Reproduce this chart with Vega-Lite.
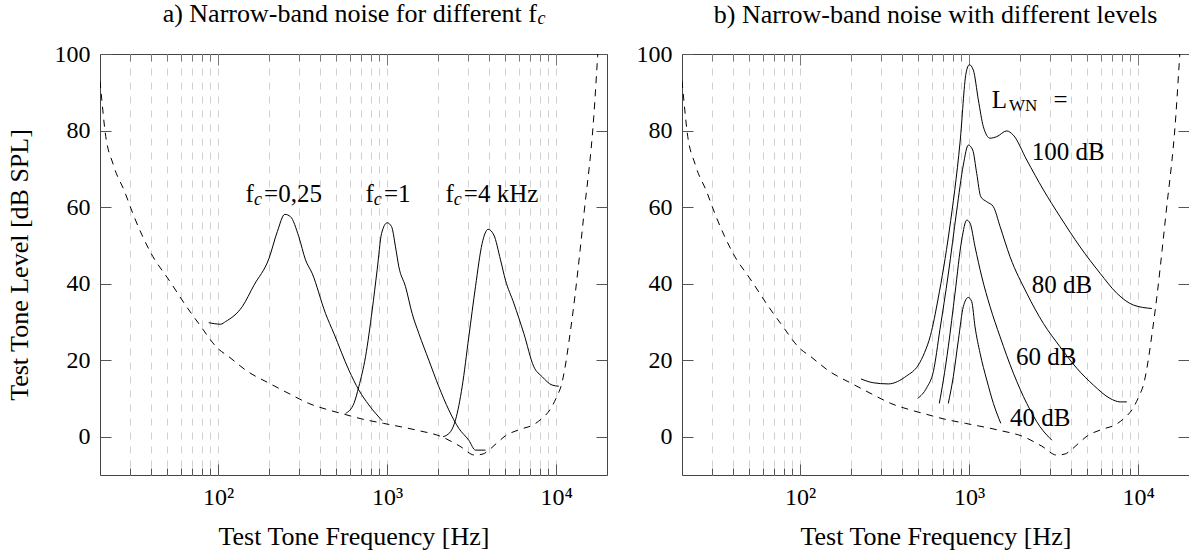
{
  "$schema": "https://vega.github.io/schema/vega-lite/v6.json",
  "padding": {"left": 5, "top": 0, "right": 0, "bottom": 0},
  "background": "white",
  "datasets": {
    "threshold": [
      {"f": 20, "db": 93}, {"f": 20.5, "db": 88}, {"f": 21.4, "db": 80}, {"f": 24, "db": 71}, {"f": 28, "db": 64},
      {"f": 31.5, "db": 58}, {"f": 40, "db": 48}, {"f": 52, "db": 40.5}, {"f": 65, "db": 34}, {"f": 77, "db": 29.5},
      {"f": 100, "db": 23}, {"f": 115, "db": 21}, {"f": 150, "db": 17}, {"f": 200, "db": 14}, {"f": 270, "db": 11},
      {"f": 344, "db": 8.7}, {"f": 450, "db": 7}, {"f": 555, "db": 5.9}, {"f": 700, "db": 4.7}, {"f": 950, "db": 3.5},
      {"f": 1500, "db": 1.7}, {"f": 2100, "db": 0}, {"f": 2700, "db": -2.5}, {"f": 3300, "db": -4.8}, {"f": 3700, "db": -4.5},
      {"f": 4000, "db": -3.5}, {"f": 4500, "db": -1.5}, {"f": 5000, "db": 0.2}, {"f": 6000, "db": 1.8}, {"f": 7450, "db": 3.3},
      {"f": 8250, "db": 4.8}, {"f": 9180, "db": 7}, {"f": 10100, "db": 10.5}, {"f": 10740, "db": 13.5}, {"f": 12400, "db": 30.5},
      {"f": 14650, "db": 58.7}, {"f": 16700, "db": 83.6}, {"f": 17600, "db": 99.3}, {"f": 17700, "db": 101}
    ],
    "curves": [
      {"panel": "a", "curve": "fc0.25", "f": 88, "db": 29.8}, {"panel": "a", "curve": "fc0.25", "f": 103.5, "db": 29.4},
      {"panel": "a", "curve": "fc0.25", "f": 110.8, "db": 30.1}, {"panel": "a", "curve": "fc0.25", "f": 139, "db": 34.0},
      {"panel": "a", "curve": "fc0.25", "f": 163, "db": 39.6}, {"panel": "a", "curve": "fc0.25", "f": 200, "db": 46.6},
      {"panel": "a", "curve": "fc0.25", "f": 224, "db": 53.6}, {"panel": "a", "curve": "fc0.25", "f": 248, "db": 58.1},
      {"panel": "a", "curve": "fc0.25", "f": 268, "db": 57.5}, {"panel": "a", "curve": "fc0.25", "f": 300, "db": 52.3},
      {"panel": "a", "curve": "fc0.25", "f": 329, "db": 46.2}, {"panel": "a", "curve": "fc0.25", "f": 360, "db": 42.7},
      {"panel": "a", "curve": "fc0.25", "f": 432, "db": 32.2}, {"panel": "a", "curve": "fc0.25", "f": 484, "db": 27.0},
      {"panel": "a", "curve": "fc0.25", "f": 594, "db": 17.4}, {"panel": "a", "curve": "fc0.25", "f": 680, "db": 12.2},
      {"panel": "a", "curve": "fc0.25", "f": 780, "db": 8.3}, {"panel": "a", "curve": "fc0.25", "f": 934, "db": 4.2},

      {"panel": "a", "curve": "fc1", "f": 568, "db": 6.1}, {"panel": "a", "curve": "fc1", "f": 636, "db": 8.7},
      {"panel": "a", "curve": "fc1", "f": 680, "db": 13.1}, {"panel": "a", "curve": "fc1", "f": 745, "db": 20.9},
      {"panel": "a", "curve": "fc1", "f": 816, "db": 33.1}, {"panel": "a", "curve": "fc1", "f": 873, "db": 43.6},
      {"panel": "a", "curve": "fc1", "f": 927, "db": 53.1}, {"panel": "a", "curve": "fc1", "f": 1000, "db": 55.9},
      {"panel": "a", "curve": "fc1", "f": 1062, "db": 54.9}, {"panel": "a", "curve": "fc1", "f": 1121, "db": 49.6},
      {"panel": "a", "curve": "fc1", "f": 1173, "db": 44.4}, {"panel": "a", "curve": "fc1", "f": 1285, "db": 39.2},
      {"panel": "a", "curve": "fc1", "f": 1406, "db": 32.2}, {"panel": "a", "curve": "fc1", "f": 1540, "db": 27.0},
      {"panel": "a", "curve": "fc1", "f": 1765, "db": 20.0}, {"panel": "a", "curve": "fc1", "f": 2022, "db": 13.1},
      {"panel": "a", "curve": "fc1", "f": 2317, "db": 7.0}, {"panel": "a", "curve": "fc1", "f": 2655, "db": 2.2},
      {"panel": "a", "curve": "fc1", "f": 3041, "db": -0.9}, {"panel": "a", "curve": "fc1", "f": 3334, "db": -3.5},
      {"panel": "a", "curve": "fc1", "f": 3820, "db": -3.5},

      {"panel": "a", "curve": "fc4", "f": 2144, "db": 0}, {"panel": "a", "curve": "fc4", "f": 2371, "db": 1.3},
      {"panel": "a", "curve": "fc4", "f": 2539, "db": 4.4}, {"panel": "a", "curve": "fc4", "f": 2780, "db": 13.1},
      {"panel": "a", "curve": "fc4", "f": 3043, "db": 26.1}, {"panel": "a", "curve": "fc4", "f": 3333, "db": 39.2},
      {"panel": "a", "curve": "fc4", "f": 3649, "db": 50.5}, {"panel": "a", "curve": "fc4", "f": 3960, "db": 54.2},
      {"panel": "a", "curve": "fc4", "f": 4280, "db": 52.7}, {"panel": "a", "curve": "fc4", "f": 4687, "db": 46.2},
      {"panel": "a", "curve": "fc4", "f": 5016, "db": 40.9}, {"panel": "a", "curve": "fc4", "f": 5618, "db": 34.9},
      {"panel": "a", "curve": "fc4", "f": 6438, "db": 27.0}, {"panel": "a", "curve": "fc4", "f": 7377, "db": 18.3},
      {"panel": "a", "curve": "fc4", "f": 8260, "db": 15.7}, {"panel": "a", "curve": "fc4", "f": 9467, "db": 13.5},
      {"panel": "a", "curve": "fc4", "f": 10370, "db": 13.2},

      {"panel": "b", "curve": "L100", "f": 229, "db": 15.1}, {"panel": "b", "curve": "L100", "f": 271, "db": 14.1},
      {"panel": "b", "curve": "L100", "f": 332, "db": 13.8}, {"panel": "b", "curve": "L100", "f": 427, "db": 15.9},
      {"panel": "b", "curve": "L100", "f": 500, "db": 18.7}, {"panel": "b", "curve": "L100", "f": 545, "db": 22},
      {"panel": "b", "curve": "L100", "f": 591, "db": 26.5}, {"panel": "b", "curve": "L100", "f": 655, "db": 36},
      {"panel": "b", "curve": "L100", "f": 764, "db": 54}, {"panel": "b", "curve": "L100", "f": 884, "db": 77},
      {"panel": "b", "curve": "L100", "f": 959, "db": 95.0}, {"panel": "b", "curve": "L100", "f": 1003, "db": 97.2},
      {"panel": "b", "curve": "L100", "f": 1059, "db": 95.8}, {"panel": "b", "curve": "L100", "f": 1134, "db": 88.0},
      {"panel": "b", "curve": "L100", "f": 1214, "db": 81.0}, {"panel": "b", "curve": "L100", "f": 1330, "db": 78.0},
      {"panel": "b", "curve": "L100", "f": 1457, "db": 78.4}, {"panel": "b", "curve": "L100", "f": 1669, "db": 79.9},
      {"panel": "b", "curve": "L100", "f": 1826, "db": 78.8}, {"panel": "b", "curve": "L100", "f": 2193, "db": 72.3},
      {"panel": "b", "curve": "L100", "f": 2751, "db": 64.5}, {"panel": "b", "curve": "L100", "f": 3452, "db": 57.5},
      {"panel": "b", "curve": "L100", "f": 4536, "db": 49.6}, {"panel": "b", "curve": "L100", "f": 5958, "db": 42.7},
      {"panel": "b", "curve": "L100", "f": 7478, "db": 37.5}, {"panel": "b", "curve": "L100", "f": 9380, "db": 34.4},
      {"panel": "b", "curve": "L100", "f": 12060, "db": 33.5},

      {"panel": "b", "curve": "L80", "f": 496, "db": 10}, {"panel": "b", "curve": "L80", "f": 561, "db": 12.8},
      {"panel": "b", "curve": "L80", "f": 614, "db": 17}, {"panel": "b", "curve": "L80", "f": 672, "db": 28},
      {"panel": "b", "curve": "L80", "f": 753, "db": 42.5}, {"panel": "b", "curve": "L80", "f": 844, "db": 59},
      {"panel": "b", "curve": "L80", "f": 924, "db": 71}, {"panel": "b", "curve": "L80", "f": 989, "db": 76.2},
      {"panel": "b", "curve": "L80", "f": 1050, "db": 74.9}, {"panel": "b", "curve": "L80", "f": 1109, "db": 68.8},
      {"panel": "b", "curve": "L80", "f": 1172, "db": 62.7}, {"panel": "b", "curve": "L80", "f": 1272, "db": 61.4},
      {"panel": "b", "curve": "L80", "f": 1391, "db": 60.1}, {"panel": "b", "curve": "L80", "f": 1525, "db": 54.9},
      {"panel": "b", "curve": "L80", "f": 1747, "db": 47.0}, {"panel": "b", "curve": "L80", "f": 2193, "db": 37.5},
      {"panel": "b", "curve": "L80", "f": 2751, "db": 29.6}, {"panel": "b", "curve": "L80", "f": 3452, "db": 23.5},
      {"panel": "b", "curve": "L80", "f": 4336, "db": 17.9}, {"panel": "b", "curve": "L80", "f": 5438, "db": 13.5},
      {"panel": "b", "curve": "L80", "f": 6829, "db": 10.0}, {"panel": "b", "curve": "L80", "f": 7828, "db": 9.1},
      {"panel": "b", "curve": "L80", "f": 8570, "db": 9.1},

      {"panel": "b", "curve": "L60", "f": 666, "db": 8.7}, {"panel": "b", "curve": "L60", "f": 704, "db": 14.8},
      {"panel": "b", "curve": "L60", "f": 753, "db": 23.5}, {"panel": "b", "curve": "L60", "f": 825, "db": 37.5},
      {"panel": "b", "curve": "L60", "f": 904, "db": 51.4}, {"panel": "b", "curve": "L60", "f": 968, "db": 56.6},
      {"panel": "b", "curve": "L60", "f": 1013, "db": 55.8}, {"panel": "b", "curve": "L60", "f": 1084, "db": 49.6},
      {"panel": "b", "curve": "L60", "f": 1188, "db": 41.8}, {"panel": "b", "curve": "L60", "f": 1330, "db": 34.0},
      {"panel": "b", "curve": "L60", "f": 1525, "db": 26.1}, {"panel": "b", "curve": "L60", "f": 1828, "db": 16.6},
      {"panel": "b", "curve": "L60", "f": 2193, "db": 8.7}, {"panel": "b", "curve": "L60", "f": 2630, "db": 2.6},
      {"panel": "b", "curve": "L60", "f": 3086, "db": -0.9},

      {"panel": "b", "curve": "L40", "f": 753, "db": 8.7}, {"panel": "b", "curve": "L40", "f": 806, "db": 15.7},
      {"panel": "b", "curve": "L40", "f": 864, "db": 25.3}, {"panel": "b", "curve": "L40", "f": 924, "db": 34.0},
      {"panel": "b", "curve": "L40", "f": 989, "db": 36.4}, {"panel": "b", "curve": "L40", "f": 1036, "db": 35.3},
      {"panel": "b", "curve": "L40", "f": 1084, "db": 28.7}, {"panel": "b", "curve": "L40", "f": 1161, "db": 21.8},
      {"panel": "b", "curve": "L40", "f": 1272, "db": 14.8}, {"panel": "b", "curve": "L40", "f": 1392, "db": 8.7},
      {"panel": "b", "curve": "L40", "f": 1539, "db": 3.5}
    ],
    "labels": [
      {"panel": "a", "role": "main", "f": 145.4, "db": 61.4, "text": "f"},
      {"panel": "a", "role": "subit", "f": 162.8, "db": 60.5, "text": "c"},
      {"panel": "a", "role": "main", "f": 187, "db": 61.4, "text": "=0,25"},
      {"panel": "a", "role": "main", "f": 745.4, "db": 61.4, "text": "f"},
      {"panel": "a", "role": "subit", "f": 834.3, "db": 60.5, "text": "c"},
      {"panel": "a", "role": "main", "f": 957, "db": 61.4, "text": "=1"},
      {"panel": "a", "role": "main", "f": 2215, "db": 61.4, "text": "f"},
      {"panel": "a", "role": "subit", "f": 2480, "db": 60.5, "text": "c"},
      {"panel": "a", "role": "main", "f": 2845, "db": 61.4, "text": "=4 kHz"},
      {"panel": "b", "role": "main", "f": 1361, "db": 85.8, "text": "L"},
      {"panel": "b", "role": "sub", "f": 1720, "db": 85.0, "text": "WN"},
      {"panel": "b", "role": "main", "f": 3155, "db": 85.8, "text": "="},
      {"panel": "b", "role": "main", "f": 2349, "db": 72.3, "text": "100 dB"},
      {"panel": "b", "role": "main", "f": 2349, "db": 37.5, "text": "80 dB"},
      {"panel": "b", "role": "main", "f": 1896, "db": 18.7, "text": "60 dB"},
      {"panel": "b", "role": "main", "f": 1748, "db": 2.8, "text": "40 dB"}
    ]
  },
  "hconcat": [
    {
      "width": 507,
      "height": 421,
      "title": {
        "text": "a) Narrow-band noise for different f\u2004\u200b",
        "subtitle": "c",
        "anchor": "middle",
        "align": "right",
        "dx": 192,
        "offset": 14,
        "subtitleFontStyle": "italic",
        "subtitleFontSize": 18,
        "subtitlePadding": -17,
        "subtitleColor": "black",
        "subtitleFont": "Liberation Serif"
      },
      "layer": [
        {
          "data": {"name": "threshold"},
          "mark": {"type": "line", "color": "black", "strokeWidth": 1, "strokeDash": [7, 6], "clip": true, "interpolate": "monotone"},
          "encoding": {
            "x": {
              "field": "f", "type": "quantitative",
              "scale": {"type": "log", "domain": [20, 20000], "nice": false},
              "axis": {
                "orient": "bottom",
                "title": "Test Tone Frequency [Hz]",
                "values": [30, 40, 50, 60, 70, 80, 90, 100, 200, 300, 400, 500, 600, 700, 800, 900, 1000, 2000, 3000, 4000, 5000, 6000, 7000, 8000, 9000, 10000],
                "labelExpr": "datum.value == 100 ? '10²' : datum.value == 1000 ? '10³' : datum.value == 10000 ? '10⁴' : ''",
                "grid": true, "gridDash": [7, 7], "gridColor": "#d0d0d0", "gridWidth": 1,
                "domain": false,
                "tickSize": {"condition": {"test": "datum.value == 100 || datum.value == 1000 || datum.value == 10000", "value": -11}, "value": -7},
                "tickColor": "#555",
                "labelPadding": 21, "titlePadding": 10,
                "labelOverlap": false, "labelFlush": false
              }
            },
            "y": {
              "field": "db", "type": "quantitative",
              "scale": {"domain": [-10, 100], "nice": false, "zero": false},
              "axis": {
                "orient": "left",
                "title": "Test Tone Level [dB SPL]",
                "values": [0, 20, 40, 60, 80, 100],
                "grid": false, "domain": false,
                "tickSize": -11, "tickColor": "#555",
                "labelPadding": 21, "titlePadding": 22
              }
            }
          }
        },
        {
          "data": {"name": "curves"},
          "transform": [{"filter": "datum.panel == 'a'"}],
          "mark": {"type": "line", "color": "black", "strokeWidth": 1, "clip": true, "interpolate": "monotone"},
          "encoding": {
            "x": {
              "field": "f", "type": "quantitative",
              "scale": {"type": "log", "domain": [20, 20000], "nice": false},
              "axis": {
                "orient": "top", "title": null, "labels": false, "grid": false, "domain": false,
                "values": [30, 40, 50, 60, 70, 80, 90, 100, 200, 300, 400, 500, 600, 700, 800, 900, 1000, 2000, 3000, 4000, 5000, 6000, 7000, 8000, 9000, 10000],
                "tickSize": {"condition": {"test": "datum.value == 100 || datum.value == 1000 || datum.value == 10000", "value": -11}, "value": -7},
                "tickColor": "#777"
              }
            },
            "y": {
              "field": "db", "type": "quantitative",
              "scale": {"domain": [-10, 100], "nice": false, "zero": false},
              "axis": {
                "orient": "right", "title": null, "labels": false, "grid": false, "domain": false,
                "values": [0, 20, 40, 60, 80, 100], "tickSize": -11, "tickColor": "#555"
              }
            },
            "detail": {"field": "curve"}
          }
        },
        {
          "data": {"name": "labels"},
          "transform": [{"filter": "datum.panel == 'a' && datum.role == 'main'"}],
          "mark": {"type": "text", "align": "left", "baseline": "alphabetic", "fontSize": 25, "color": "black"},
          "encoding": {
            "x": {"field": "f", "type": "quantitative", "axis": null},
            "y": {"field": "db", "type": "quantitative", "axis": null},
            "text": {"field": "text"}
          }
        },
        {
          "data": {"name": "labels"},
          "transform": [{"filter": "datum.panel == 'a' && datum.role == 'subit'"}],
          "mark": {"type": "text", "align": "left", "baseline": "alphabetic", "fontSize": 18, "fontStyle": "italic", "color": "black"},
          "encoding": {
            "x": {"field": "f", "type": "quantitative", "axis": null},
            "y": {"field": "db", "type": "quantitative", "axis": null},
            "text": {"field": "text"}
          }
        }
      ],
      "resolve": {"axis": {"x": "independent", "y": "independent"}}
    },
    {
      "width": 507,
      "height": 421,
      "title": {
        "text": "b) Narrow-band noise with different levels",
        "anchor": "middle",
        "offset": 14
      },
      "layer": [
        {
          "data": {"name": "threshold"},
          "mark": {"type": "line", "color": "black", "strokeWidth": 1, "strokeDash": [7, 6], "clip": true, "interpolate": "monotone"},
          "encoding": {
            "x": {
              "field": "f", "type": "quantitative",
              "scale": {"type": "log", "domain": [20, 20000], "nice": false},
              "axis": {
                "orient": "bottom",
                "title": "Test Tone Frequency [Hz]",
                "values": [30, 40, 50, 60, 70, 80, 90, 100, 200, 300, 400, 500, 600, 700, 800, 900, 1000, 2000, 3000, 4000, 5000, 6000, 7000, 8000, 9000, 10000],
                "labelExpr": "datum.value == 100 ? '10²' : datum.value == 1000 ? '10³' : datum.value == 10000 ? '10⁴' : ''",
                "grid": true, "gridDash": [7, 7], "gridColor": "#d0d0d0", "gridWidth": 1,
                "domain": false,
                "tickSize": {"condition": {"test": "datum.value == 100 || datum.value == 1000 || datum.value == 10000", "value": -11}, "value": -7},
                "tickColor": "#555",
                "labelPadding": 21, "titlePadding": 10,
                "labelOverlap": false, "labelFlush": false
              }
            },
            "y": {
              "field": "db", "type": "quantitative",
              "scale": {"domain": [-10, 100], "nice": false, "zero": false},
              "axis": {
                "orient": "left",
                "title": null,
                "values": [0, 20, 40, 60, 80, 100],
                "grid": false, "domain": false,
                "tickSize": -11, "tickColor": "#555",
                "labelPadding": 21
              }
            }
          }
        },
        {
          "data": {"name": "curves"},
          "transform": [{"filter": "datum.panel == 'b'"}],
          "mark": {"type": "line", "color": "black", "strokeWidth": 1, "clip": true, "interpolate": "monotone"},
          "encoding": {
            "x": {
              "field": "f", "type": "quantitative",
              "scale": {"type": "log", "domain": [20, 20000], "nice": false},
              "axis": {
                "orient": "top", "title": null, "labels": false, "grid": false, "domain": false,
                "values": [30, 40, 50, 60, 70, 80, 90, 100, 200, 300, 400, 500, 600, 700, 800, 900, 1000, 2000, 3000, 4000, 5000, 6000, 7000, 8000, 9000, 10000],
                "tickSize": {"condition": {"test": "datum.value == 100 || datum.value == 1000 || datum.value == 10000", "value": -11}, "value": -7},
                "tickColor": "#777"
              }
            },
            "y": {
              "field": "db", "type": "quantitative",
              "scale": {"domain": [-10, 100], "nice": false, "zero": false},
              "axis": {
                "orient": "right", "title": null, "labels": false, "grid": false, "domain": false,
                "values": [0, 20, 40, 60, 80, 100], "tickSize": -11, "tickColor": "#555"
              }
            },
            "detail": {"field": "curve"}
          }
        },
        {
          "data": {"name": "labels"},
          "transform": [{"filter": "datum.panel == 'b' && datum.role == 'main'"}],
          "mark": {"type": "text", "align": "left", "baseline": "alphabetic", "fontSize": 25, "color": "black"},
          "encoding": {
            "x": {"field": "f", "type": "quantitative", "axis": null},
            "y": {"field": "db", "type": "quantitative", "axis": null},
            "text": {"field": "text"}
          }
        },
        {
          "data": {"name": "labels"},
          "transform": [{"filter": "datum.panel == 'b' && datum.role == 'sub'"}],
          "mark": {"type": "text", "align": "left", "baseline": "alphabetic", "fontSize": 17, "color": "black"},
          "encoding": {
            "x": {"field": "f", "type": "quantitative", "axis": null},
            "y": {"field": "db", "type": "quantitative", "axis": null},
            "text": {"field": "text"}
          }
        }
      ],
      "resolve": {"axis": {"x": "independent", "y": "independent"}}
    }
  ],
  "spacing": 27,
  "config": {
    "font": "Liberation Serif",
    "view": {"stroke": "#444", "strokeWidth": 1},
    "axis": {"labelColor": "black", "titleColor": "black", "titleFontWeight": "normal", "labelFontSize": 24, "titleFontSize": 26, "labelFont": "Liberation Serif", "titleFont": "Liberation Serif"},
    "title": {"fontSize": 26, "fontWeight": "normal", "color": "black", "font": "Liberation Serif"},
    "text": {"font": "Liberation Serif"}
  }
}
